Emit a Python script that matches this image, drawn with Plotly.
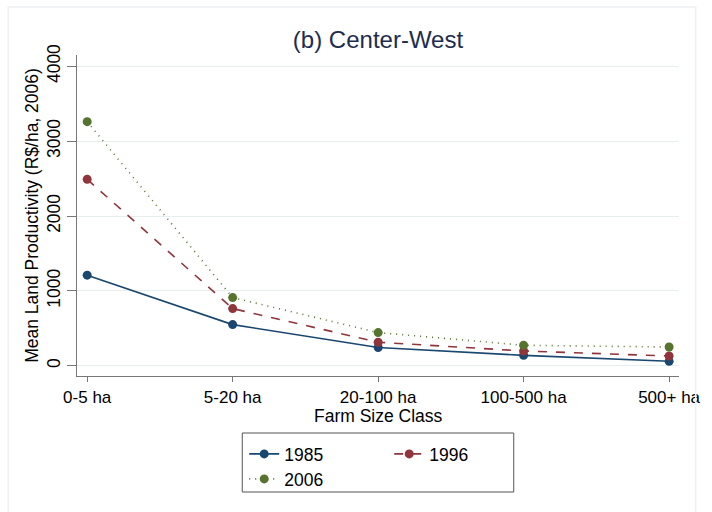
import plotly.graph_objects as go

categories = ["0-5 ha", "5-20 ha", "20-100 ha", "100-500 ha", "500+ ha"]
y1985 = [1210, 550, 244, 140, 60]
y1996 = [2490, 764, 315, 198, 131]
y2006 = [3260, 911, 444, 274, 251]
yticks = [0, 1000, 2000, 3000, 4000]

font = "Liberation Sans, Arial, sans-serif"
fig = go.Figure()
series = [
    ("1985", y1985, "#1A476F", "solid", "legend"),
    ("1996", y1996, "#90353B", "dash", "legend"),
    ("2006", y2006, "#55752F", "1px,5px", "legend2"),
]
for name, ys, col, dash, leg in series:
    fig.add_trace(go.Scatter(
        x=list(range(len(categories))), y=ys, name=name, mode="lines+markers",
        line=dict(color=col, dash=dash, width=1.6),
        marker=dict(color=col, size=9),
        legend=leg,
    ))

PL, PR, PT, PB = 77, 689, 55, 376
PW, PH = PR - PL, PB - PT
def px(x):
    return (x - PL) / PW
def py(y):
    return (PB - y) / PH

fig.update_layout(
    width=712, height=512,
    margin=dict(l=PL, r=712 - PR, t=PT, b=512 - PB),
    paper_bgcolor="white", plot_bgcolor="white",
    font=dict(family=font, size=17, color="black"),
    title=dict(text="(b) Center-West", xref="paper", x=0.5, xanchor="center",
               y=0.922, yanchor="middle",
               font=dict(size=24, color="#1E2D4F", family=font)),
    xaxis=dict(
        tickmode="array", tickvals=list(range(len(categories))), ticktext=categories,
        range=[-0.07, 4.068], showgrid=False, zeroline=False,
        showline=True, linecolor="#777777", linewidth=1.2,
        ticks="outside", ticklen=5, tickcolor="#777777",
        tickfont=dict(size=17),
    ),
    yaxis=dict(
        tickmode="array", tickvals=yticks, ticktext=[str(v) for v in yticks],
        range=[-136, 4150], showgrid=True, gridcolor="#E6EEF0", gridwidth=1,
        zeroline=False, showline=True, linecolor="#777777", linewidth=1.2,
        ticks="outside", ticklen=9, tickcolor="#777777", tickangle=-90,
        tickfont=dict(size=17.5),
        title=dict(text="Mean Land Productivity (R$/ha, 2006)", standoff=0, font=dict(size=17.5)),
    ),
    annotations=[dict(text="Farm Size Class", xref="paper", yref="paper", x=0.5, y=py(416),
                      xanchor="center", yanchor="middle", showarrow=False,
                      font=dict(size=17.5, color="black"))],
    legend=dict(
        orientation="h", x=px(247), xanchor="left", y=py(436), yanchor="top",
        borderwidth=0, bgcolor="rgba(0,0,0,0)",
        entrywidth=100, entrywidthmode="pixels",
        font=dict(size=17.5), traceorder="normal",
    ),
    legend2=dict(
        orientation="h", x=px(247), xanchor="left", y=py(461), yanchor="top",
        borderwidth=0, bgcolor="rgba(0,0,0,0)",
        font=dict(size=17.5),
    ),
    shapes=[
        dict(type="rect", xref="paper", yref="paper", x0=px(245), x1=px(521),
             y0=py(492), y1=py(433), line=dict(color="#555555", width=1)),
        dict(type="rect", xref="paper", yref="paper", x0=px(7), x1=px(706),
             y0=py(530), y1=py(7), line=dict(color="#EDF1F3", width=1.5)),
    ],
)
fig.write_html("out.html")
